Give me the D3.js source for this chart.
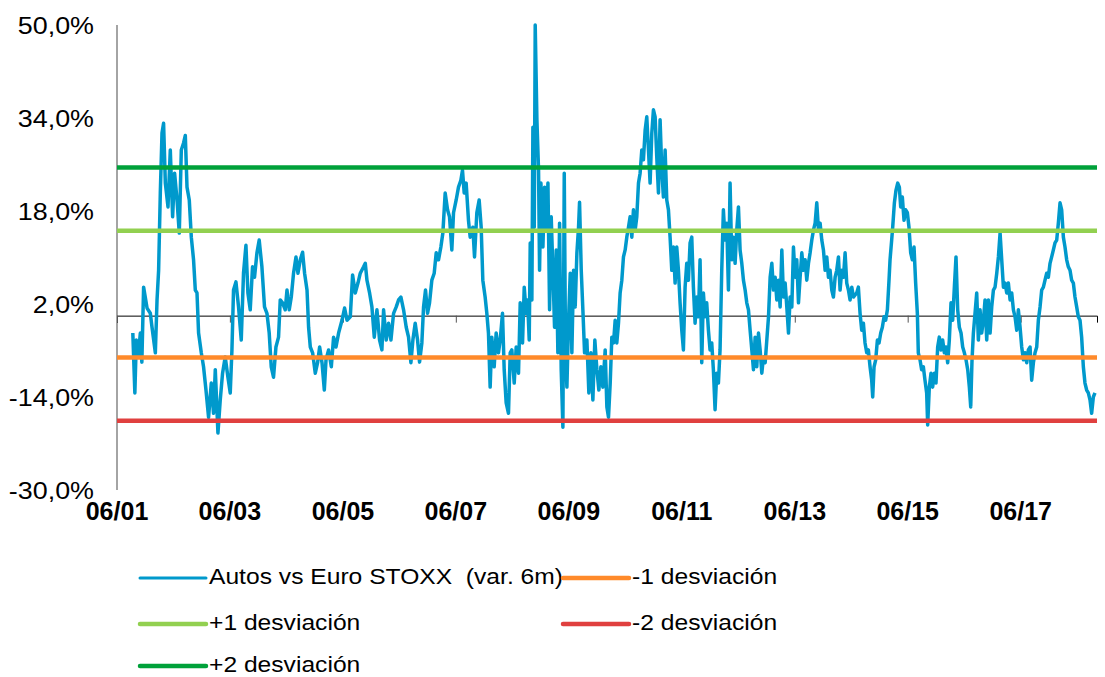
<!DOCTYPE html>
<html>
<head>
<meta charset="utf-8">
<script src="https://cdn.jsdelivr.net/npm/d3@7"></script>
<style>
  body { margin: 0; background: #fff; }
  text { font-family: "Liberation Sans", Arial, sans-serif; white-space: pre; }
</style>
</head>
<body>
<svg id="chart" width="1105" height="677"></svg>
<script>
// Autos vs Euro STOXX (var. 6m) (fecha en años decimales, valor en %)
var fechas = [
 2001.694,2001.730,2001.756,2001.792,2001.827,2001.854,2001.885,2001.946,2002.004,2002.034,
 2002.093,2002.123,2002.151,2002.181,2002.211,2002.239,2002.270,2002.317,2002.358,2002.399,
 2002.434,2002.477,2002.517,2002.553,2002.593,2002.624,2002.654,2002.694,2002.730,2002.770,
 2002.801,2002.831,2002.859,2002.907,2002.947,2002.990,2003.036,2003.084,2003.124,2003.155,
 2003.202,2003.243,2003.284,2003.331,2003.379,2003.420,2003.450,2003.478,2003.521,2003.567,
 2003.615,2003.655,2003.698,2003.733,2003.774,2003.815,2003.850,2003.893,2003.933,2003.981,
 2004.027,2004.070,2004.110,2004.146,2004.186,2004.229,2004.275,2004.305,2004.346,2004.393,
 2004.424,2004.464,2004.500,2004.540,2004.583,2004.618,2004.659,2004.700,2004.735,2004.778,
 2004.806,2004.836,2004.877,2004.924,2004.965,2005.001,2005.043,2005.084,2005.114,2005.160,
 2005.208,2005.248,2005.291,2005.337,2005.397,2005.443,2005.486,2005.544,2005.585,2005.632,
 2005.680,
 2005.721,2005.780,2005.810,2005.839,2005.886,2005.927,2005.969,2006.016,2006.063,2006.104,
 2006.134,2006.181,2006.222,2006.264,2006.311,2006.358,2006.399,2006.441,2006.488,2006.535,
 2006.576,2006.618,2006.653,2006.694,2006.736,2006.771,2006.812,2006.842,2006.877,2006.913,
 2006.948,2006.989,2007.031,2007.066,2007.107,2007.149,2007.184,2007.225,2007.267,2007.302,
 2007.343,2007.373,2007.420,2007.461,2007.503,2007.532,2007.562,2007.597,2007.638,2007.668,
 2007.715,2007.745,2007.786,2007.827,2007.863,2007.892,2007.933,2007.963,2007.992,2008.022,
 2008.051,2008.093,2008.128,2008.169,2008.199,2008.240,2008.270,2008.305,2008.346,2008.376,
 2008.405,2008.447,2008.482,2008.523,2008.553,2008.594,2008.624,2008.659,2008.683,2008.712,
 2008.730,2008.759,2008.777,2008.801,2008.818,2008.848,2008.877,2008.895,2008.919,2008.954,
 2008.984,2009.013,2009.043,2009.072,2009.101,2009.131,2009.160,2009.190,2009.219,2009.249,
 2009.278,2009.308,2009.332,2009.355,2009.379,2009.408,2009.438,2009.467,2009.497,2009.526,
 2009.556,2009.585,2009.603,2009.633,2009.662,2009.692,2009.733,2009.768,2009.804,2009.839,
 2009.874,2009.910,2009.945,2009.981,2010.016,2010.057,2010.087,2010.116,
 2010.146,2010.175,2010.205,2010.234,2010.263,2010.293,2010.322,2010.352,2010.381,2010.411,
 2010.440,2010.470,2010.499,2010.529,2010.558,2010.588,2010.617,2010.647,2010.676,2010.706,
 2010.735,2010.765,2010.794,2010.824,2010.853,2010.883,2010.912,2010.942,2010.971,2011.001,
 2011.030,2011.060,2011.089,2011.119,2011.148,2011.178,2011.207,2011.237,2011.266,2011.296,
 2011.325,2011.355,2011.384,2011.414,2011.443,2011.473,2011.502,2011.532,2011.561,2011.591,
 2011.620,2011.650,2011.679,2011.709,2011.738,2011.768,2011.797,2011.827,2011.856,2011.886,
 2011.915,2011.945,2011.974,2012.004,2012.033,2012.063,2012.092,2012.122,2012.151,2012.181,
 2012.210,2012.240,2012.269,2012.299,2012.328,2012.358,2012.387,2012.417,2012.446,2012.476,
 2012.505,2012.535,2012.564,2012.594,2012.623,2012.653,2012.682,2012.712,2012.741,2012.771,
 2012.800,2012.830,2012.859,2012.889,2012.918,2012.948,2012.977,2013.007,2013.036,2013.066,
 2013.095,2013.125,2013.154,2013.184,2013.213,2013.243,2013.272,2013.302,2013.331,2013.361,
 2013.390,2013.420,2013.449,2013.479,2013.508,2013.538,2013.567,2013.597,2013.626,2013.656,
 2013.685,2013.715,2013.744,2013.774,2013.803,2013.833,2013.862,2013.892,2013.921,2013.951,
 2013.980,2014.010,2014.039,2014.069,2014.098,2014.128,2014.157,2014.187,2014.216,2014.246,
 2014.276,2014.305,2014.334,2014.364,2014.393,2014.423,2014.452,
 2014.511,2014.540,2014.570,2014.599,2014.629,2014.658,2014.688,2014.717,2014.747,2014.776,
 2014.794,2014.818,2014.847,2014.877,2014.906,2014.936,2014.965,2014.995,2015.024,2015.054,
 2015.083,2015.101,2015.130,2015.148,2015.178,2015.207,2015.237,2015.266,2015.290,2015.319,
 2015.349,2015.378,2015.408,2015.437,2015.467,2015.496,2015.526,2015.555,2015.585,2015.602,
 2015.632,2015.661,2015.691,2015.720,2015.750,2015.768,2015.797,2015.827,2015.856,2015.886,
 2015.915,2015.945,2015.974,2016.004,2016.033,2016.063,2016.092,2016.122,2016.151,2016.181,
 2016.210,2016.240,2016.269,2016.299,2016.328,2016.358,2016.387,2016.417,2016.446,2016.476,
 2016.505,2016.529,2016.552,2016.576,2016.605,2016.635,2016.664,2016.694,2016.723,2016.753,
 2016.782,2016.812,2016.841,2016.871,2016.900,2016.930,2016.959,2016.989,2017.018,2017.048,
 2017.077,2017.107,2017.136,2017.166,2017.195,2017.225,2017.254,2017.284,2017.313,2017.343,
 2017.372,2017.402,2017.431,2017.461,2017.490,2017.520,2017.549,2017.579,2017.608,2017.638,
 2017.667,2017.697,2017.726,2017.756,2017.785,2017.815,2017.844,2017.874,2017.903,2017.933,
 2017.962,2017.992,2018.021,2018.051,2018.080,2018.110,2018.139,2018.169,2018.198,2018.228,
 2018.257,2018.287,2018.316,2018.346,2018.375,2018.405,2018.434,2018.464,2018.493,2018.523,
 2018.552,2018.582,2018.611,2018.641,2018.670,2018.700,2018.729
];
var valores = [
 -3.0,-13.3,-4.2,-6.8,-3.0,-8.0,4.9,1.3,0.4,-2.0,
 -6.4,2.7,7.8,21.1,31.4,33.1,22.8,18.7,28.5,17.0,
 24.5,19.9,14.2,28.5,29.7,31.0,22.1,19.9,13.5,9.6,
 4.4,3.9,-3.0,-6.4,-8.8,-12.8,-17.5,-11.6,-16.8,-9.3,
 -20.2,-14.5,-9.9,-7.1,-10.6,-13.3,-5.9,4.4,5.8,1.5,
 -4.2,7.3,12.1,3.9,1.0,8.4,6.6,10.8,13.0,8.4,
 1.5,0.4,-3.0,-8.8,-10.6,-5.4,-3.7,2.7,2.2,1.0,
 4.4,1.0,3.2,7.3,10.1,7.3,9.6,10.9,7.3,4.4,
 -2.0,-5.4,-6.4,-9.9,-8.1,-5.4,-8.1,-12.8,-7.6,-5.9,
 -8.8,-3.7,-5.4,-3.0,-0.8,1.3,-0.8,-0.2,7.0,3.9,
 5.6,
 7.3,8.4,9.0,6.1,3.9,1.5,-3.7,1.0,-4.2,-5.9,
 1.0,-4.2,-1.3,-4.2,0.4,1.5,2.7,3.2,1.0,-2.0,
 -3.7,-8.1,-4.2,-1.3,-4.2,-8.0,-4.7,1.5,4.4,0.4,
 2.2,6.1,7.3,10.8,9.6,11.8,14.2,21.1,18.2,17.0,
 11.3,17.7,19.9,22.1,23.3,25.0,21.1,22.8,16.4,13.5,
 15.2,10.1,17.7,19.9,15.2,6.1,3.2,0.4,-3.0,-12.3,
 -3.7,-8.8,-3.0,-6.4,-4.2,0.4,-9.3,-15.0,-16.8,-6.4,
 -5.9,-11.6,-5.4,-9.9,2.2,-4.7,4.9,0.4,2.7,-4.2,
 12.5,2.7,32.4,15.2,50.0,33.7,25.0,7.8,22.8,11.8,
 22.1,14.7,22.8,1.0,17.0,7.8,-2.0,11.3,-6.4,15.9,
 -9.3,-19.2,24.5,-6.4,-12.3,-0.8,7.3,-6.4,7.8,1.5,
 10.8,15.2,19.5,7.8,1.0,-6.4,-4.2,-13.3,-6.4,-14.5,
 -4.2,-9.3,-12.8,-8.8,-12.3,-5.9,-15.7,-17.5,
 -11.6,-3.7,-4.7,-0.8,-4.7,-1.3,3.9,6.1,10.1,11.3,
 13.5,15.2,17.0,13.5,18.2,14.7,17.0,22.8,24.5,28.5,
 26.8,31.9,34.2,28.5,22.8,31.4,35.4,34.2,27.3,21.1,
 33.7,25.0,20.4,28.5,19.9,18.2,13.5,7.8,11.8,5.6,
 11.8,7.8,2.2,-2.5,-5.9,4.9,9.0,6.1,12.5,13.5,
 4.9,-1.3,3.2,-0.2,9.6,-8.1,3.9,-0.2,2.2,-2.5,
 -5.9,-4.7,-9.3,-16.2,-9.9,-11.6,-5.9,7.8,18.2,13.0,
 15.9,4.4,22.8,9.6,13.5,9.0,14.7,18.7,11.3,9.0,
 6.1,4.4,2.2,1.0,-2.5,-5.9,-9.3,-3.7,-8.8,-3.0,
 -5.9,-9.9,-7.1,-8.1,-4.2,-0.2,6.6,9.0,4.4,6.6,
 2.7,6.1,1.5,11.3,3.2,5.6,1.5,-3.0,3.2,1.5,
 11.8,6.6,9.6,2.2,6.6,10.8,7.8,9.6,6.1,9.0,
 10.8,13.0,14.7,15.9,19.4,14.7,15.9,13.0,11.3,7.8,
 10.1,6.6,7.8,4.4,3.2,6.6,7.8,10.1,4.4,7.8,
 6.6,10.8,5.6,4.4,2.7,4.9,3.2,
 3.9,4.9,0.4,-2.5,-1.3,-4.7,-6.4,-5.9,-8.8,-11.1,
 -14.0,-8.8,-7.6,-4.2,-4.7,-3.0,-2.0,-0.2,-0.8,1.0,
 6.1,9.6,13.0,15.2,19.4,21.6,22.8,22.1,18.7,20.4,
 16.4,18.2,17.7,15.2,10.8,9.6,11.8,5.6,0.4,-6.4,
 -7.6,-9.3,-8.8,-11.1,-13.3,-18.8,-12.3,-9.9,-12.3,-9.9,
 -11.6,-5.4,-3.7,-5.9,-4.2,-6.4,-5.4,-8.1,-4.2,2.2,
 -0.8,4.9,10.1,1.0,-2.0,-3.0,-5.4,-6.4,-7.6,-9.3,
 -12.3,-15.7,-7.6,-3.0,0.4,3.9,-4.2,1.0,-3.0,-0.8,
 2.7,-4.2,2.7,-3.0,1.5,4.4,4.9,7.3,10.1,14.2,
 9.6,4.9,5.6,3.9,5.6,2.7,3.9,1.0,-0.2,-2.5,
 1.0,-2.0,-5.4,-7.6,-6.4,-8.1,-5.9,-5.4,-11.1,-8.1,
 -6.4,-5.4,-0.8,1.5,4.4,4.9,6.1,7.3,6.6,9.0,
 10.1,11.3,12.5,13.0,15.9,19.4,18.2,13.5,11.8,9.6,
 8.4,7.8,6.1,5.6,3.2,1.5,-0.2,-0.8,-3.7,-8.8,
 -11.6,-12.8,-13.3,-14.5,-16.8,-14.0,-13.3
];

// bandas de desviacion (media +/- 1 y 2 desviaciones)
var bandasNombres = ["+2 desviación", "+1 desviación", "-1 desviación", "-2 desviación"];
var bandasValores = [25.5, 14.6, -7.2, -18.1];
var bandasColores = ["#00a13a", "#92d050", "#ff8a2a", "#e0403f"];

var yTicks = [-30, -14, 2, 18, 34, 50];
var xTicks = ["2001-06", "2003-06", "2005-06", "2007-06", "2009-06", "2011-06", "2013-06", "2015-06", "2017-06"];
var serieNombre = "Autos vs Euro STOXX  (var. 6m)";
var serieColor = "#0099cc";

function aFecha(t) {
	var y = Math.floor(t);
	var ini = new Date(y, 0, 1), fin = new Date(y + 1, 0, 1);
	return new Date(+ini + (t - y) * (fin - ini));
}

var svg = d3.select("#chart");
var parseMes = d3.timeParse("%Y-%m");
var estirar = 1.12;   // el texto original sale algo ensanchado

var xScale = d3.scaleTime()
	.domain([parseMes("2001-06"), aFecha(2018.765)])
	.range([117, 1097]);
var yScale = d3.scaleLinear()
	.domain([-30, 50])
	.range([490, 25]);

var datos = fechas.map(function(t, i) { return { fecha: aFecha(t), valor: valores[i] }; });

// eje Y (linea gris a la izquierda)
svg.append("line")
	.attr("x1", xScale.range()[0]).attr("x2", xScale.range()[0])
	.attr("y1", yScale(50)).attr("y2", yScale(-30))
	.attr("stroke", "#868686").attr("stroke-width", 1.5);

svg.selectAll(".ylab")
	.data(yTicks)
	.enter().append("text")
	.attr("class", "ylab")
	.attr("transform", function(d) { return "translate(94," + (yScale(d) + 8.5) + ") scale(" + estirar + ",1)"; })
	.attr("text-anchor", "end")
	.style("font-size", "24px")
	.attr("fill", "#000")
	.text(function(d) { return d.toFixed(1).replace(".", ",") + "%"; });

// eje X cruzando en 0
var xAxis = d3.axisBottom(xScale)
	.tickValues(xTicks.map(parseMes))
	.tickSize(7)
	.tickFormat("");
var gx = svg.append("g")
	.attr("class", "x axis")
	.attr("transform", "translate(0," + yScale(0) + ")")
	.call(xAxis);
gx.select(".domain").attr("stroke", "#000").attr("stroke-width", 1);
gx.selectAll(".tick line").attr("stroke", "#555");

svg.selectAll(".xlab")
	.data(xTicks)
	.enter().append("text")
	.attr("class", "xlab")
	.attr("x", function(d) { return xScale(parseMes(d)); })
	.attr("y", 520)
	.attr("text-anchor", "middle")
	.style("font-size", "25px")
	.style("font-weight", "bold")
	.text(function(d) { return d3.timeFormat("%m/%y")(parseMes(d)); });

// serie
var line = d3.line()
	.x(function(d) { return xScale(d.fecha); })
	.y(function(d) { return yScale(d.valor); });

svg.append("path")
	.datum(datos)
	.attr("d", line)
	.attr("fill", "none")
	.attr("stroke", serieColor)
	.attr("stroke-width", 3.5)
	.attr("stroke-linejoin", "round");

// lineas de desviacion
svg.selectAll(".banda")
	.data(bandasValores)
	.enter().append("line")
	.attr("class", "banda")
	.attr("x1", xScale.range()[0])
	.attr("x2", xScale.range()[1])
	.attr("y1", function(d) { return yScale(d); })
	.attr("y2", function(d) { return yScale(d); })
	.attr("stroke", function(d, i) { return bandasColores[i]; })
	.attr("stroke-width", 4.5);

// leyenda
var leyenda = [
	{ nombre: serieNombre, color: serieColor, w: 3, x: 140, y: 578 },
	{ nombre: bandasNombres[2], color: bandasColores[2], w: 4.5, x: 563, y: 578 },
	{ nombre: bandasNombres[1], color: bandasColores[1], w: 4.5, x: 140, y: 624 },
	{ nombre: bandasNombres[3], color: bandasColores[3], w: 4.5, x: 563, y: 624 },
	{ nombre: bandasNombres[0], color: bandasColores[0], w: 4.5, x: 140, y: 666 }
];
var li = svg.selectAll(".leg")
	.data(leyenda)
	.enter().append("g")
	.attr("class", "leg");
li.append("line")
	.attr("x1", function(d) { return d.x; })
	.attr("x2", function(d) { return d.x + 66; })
	.attr("y1", function(d) { return d.y; })
	.attr("y2", function(d) { return d.y; })
	.attr("stroke", function(d) { return d.color; })
	.attr("stroke-width", function(d) { return d.w; })
	.attr("stroke-linecap", "round");
li.append("text")
	.attr("transform", function(d) { return "translate(" + (d.x + 69) + "," + (d.y + 6) + ") scale(" + estirar + ",1)"; })
	.style("font-size", "22px")
	.text(function(d) { return d.nombre; });
</script>
</body>
</html>
